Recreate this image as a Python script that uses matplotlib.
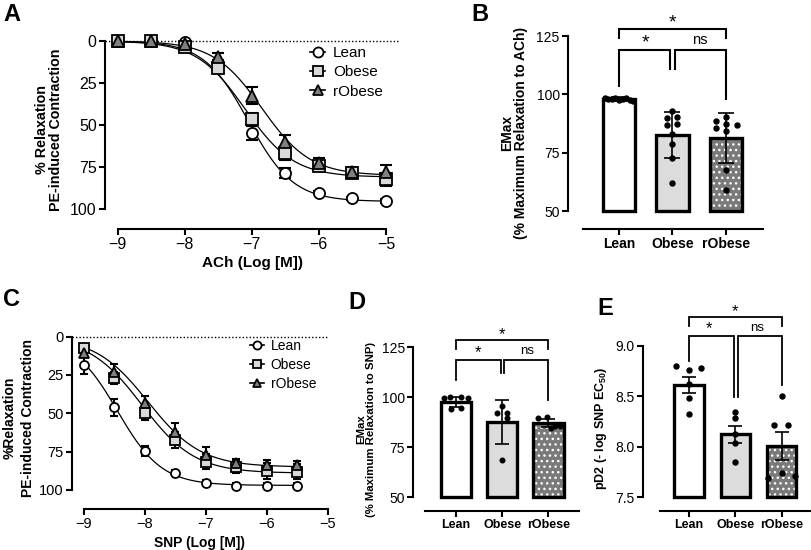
import numpy as np
import matplotlib
matplotlib.use("Agg")
import matplotlib.pyplot as plt
from matplotlib.lines import Line2D

plt.rcParams['font.family'] = ['Liberation Sans', 'DejaVu Sans']
plt.rcParams['hatch.linewidth'] = 1.0
plt.rcParams['mathtext.fontset'] = 'custom'
plt.rcParams['mathtext.rm'] = 'Liberation Sans:bold'
plt.rcParams['mathtext.default'] = 'rm'

# === Data ===
groups = ["Lean", "Obese", "rObese"]

# Panel A: ACh concentration-response
ach_x = [-9, -8.5, -8, -7.5, -7, -6.5, -6, -5.5, -5]
ach_lean = [0, 0, 0.8, 14.3, 54.8, 78.4, 90.3, 93.7, 95.2]
ach_lean_err = [0.5, 0.5, 0.5, 2, 4, 3, 1, 1, 1]
ach_obese = [0, 0, 3.4, 16.3, 46.6, 66.9, 74.2, 78.4, 82.3]
ach_obese_err = [0.5, 0.5, 1, 2, 4, 4, 3, 3, 4]
ach_robese = [0, 0, 2, 9.3, 32.5, 60, 72.8, 77.8, 78]
ach_robese_err = [0.5, 0.5, 1, 2, 5, 4, 3, 3, 4]
# fitted sigmoid parameters (top, logEC50, hill)
ach_fit = {"Lean": (95.5, -7.05, 1.3), "Obese": (81, -7.1, 1.2), "rObese": (80, -6.85, 1.2)}

# Panel B: EMax ACh
b_mean = [98, 82.6, 81.2]
b_sd = [1, 10, 10.7]
b_dots = [[98.5, 98.2, 97.8, 98.4, 97.6, 98.0, 98.3, 97.5, 97.2],
          [92.7, 89.7, 90.2, 86.9, 87.3, 82.9, 78.7, 72.9, 61.9],
          [90.4, 88.6, 85.7, 87.1, 84.3, 86.9, 67.6, 59.0]]
b_dx = [[-0.26, -0.2, -0.13, -0.07, 0, 0.07, 0.13, 0.2, 0.26],
        [0, -0.11, 0.09, -0.11, 0.09, 0, 0, 0, 0],
        [0, -0.19, -0.19, 0, 0, 0.2, 0, 0]]

# Panel C: SNP concentration-response
snp_x = [-9, -8.5, -8, -7.5, -7, -6.5, -6, -5.5]
snp_lean = [18.5, 46, 74.6, 88.7, 95.2, 97.2, 97.2, 97.2]
snp_lean_err = [6, 5.5, 3, 1.5, 1.5, 1.5, 1.5, 1.5]
snp_obese = [7.6, 27.2, 49.6, 67.4, 81.5, 85.2, 87.6, 88]
snp_obese_err = [2, 4, 5, 5, 5, 4, 5, 5]
snp_robese = [10.5, 22.8, 43.5, 62, 77.2, 82.6, 83.7, 84]
snp_robese_err = [2, 5, 5, 6, 5, 3, 3, 3]
snp_fit = {"Lean": (97, -8.45, 1.2), "Obese": (89, -8.05, 1.0), "rObese": (85, -7.95, 1.0)}

# Panel D: EMax SNP
d_mean = [97.5, 87.5, 87.2]
d_sd = [2.5, 11, 2]
d_dots = [[99.5, 100.3, 100, 99.5, 94, 94.5],
          [95.6, 92, 92, 89.5, 68.6],
          [89.8, 90.3, 85.5, 85.8, 84.5]]
d_dx = [[-0.27, -0.12, 0.1, 0.27, -0.1, 0.1],
        [0, -0.12, 0.1, 0.1, 0],
        [-0.22, -0.02, 0.15, 0.26, 0.05]]

# Panel E: pD2 SNP
e_mean = [8.613, 8.124, 8.009]
e_sem = [0.08, 0.085, 0.14]
e_dots = [[8.80, 8.76, 8.78, 8.62, 8.48, 8.32],
          [8.34, 8.28, 8.13, 8.04, 7.85],
          [8.50, 8.21, 8.21, 7.74, 7.69, 7.71]]
e_dx = [[-0.27, 0, 0.27, 0, 0, 0],
        [0, 0, 0, 0, 0],
        [0, -0.16, 0.13, 0, -0.3, 0.3]]

W, H = 812, 550
fig = plt.figure(figsize=(W / 100, H / 100), dpi=100)


def px_axes(x0, y0, x1, y1):
    return fig.add_axes([x0 / W, 1 - y1 / H, (x1 - x0) / W, (y1 - y0) / H])


def hill(x, top, logec, n):
    return top / (1 + 10 ** ((logec - x) * n))


def style_axes(ax, tick_fs):
    for s in ["top", "right"]:
        ax.spines[s].set_visible(False)
    for s in ["left", "bottom"]:
        ax.spines[s].set_linewidth(1.5)
    ax.tick_params(width=1.5, length=4, labelsize=tick_fs, pad=2)
    ax.patch.set_alpha(0)


def curve_panel(ax, xs, series, fits, ms, cap, tick_fs, leg_fs, leg_pos):
    styles = {"Lean": ("o", "white"), "Obese": ("s", "#d9d9d9"), "rObese": ("^", "#808080")}
    xf = np.linspace(xs[0], xs[-1], 200)
    handles = []
    for name, (yv, ye) in series.items():
        mk, fc = styles[name]
        top, logec, n = fits[name]
        ax.plot(xf, hill(xf, top, logec, n), color="black", lw=0.9, zorder=2)
        ax.errorbar(xs, yv, yerr=ye, fmt="none", ecolor="black", elinewidth=1.5,
                    capsize=cap, capthick=1.5, zorder=3, clip_on=False)
        ax.plot(xs, yv, ls="none", marker=mk, ms=ms, mfc=fc, mec="black", mew=1.3,
                zorder=4, clip_on=False)
        handles.append(Line2D([], [], color="black", lw=1.2, marker=mk, ms=ms * 0.9,
                              mfc=fc, mec="black", mew=1.3))
    ax.axhline(0, color="black", ls=(0, (1, 1.5)), lw=1.0, zorder=1)
    ax.legend(handles, list(series.keys()), loc="upper left", bbox_to_anchor=leg_pos,
              bbox_transform=fig.transFigure, frameon=False, fontsize=leg_fs,
              handlelength=1.0, handletextpad=0.5, labelspacing=0.35,
              borderpad=0, borderaxespad=0)
    style_axes(ax, tick_fs)
    ax.spines["left"].set_bounds(0, 100)
    ax.set_yticks([0, 25, 50, 75, 100])


def bar_panel(ax, means, errs, dots, dxs, width, cap, dot_ms, tick_fs, xt_fs):
    xs = np.arange(len(groups))
    fills = ["white", "#dcdcdc", "#7a7a7a"]
    for i in range(len(groups)):
        if i == 2:
            ax.bar(xs[i], means[i] - bottom_val, width, bottom=bottom_val, color=fills[i],
                   edgecolor="white", lw=0, hatch="...", zorder=1)
            ax.bar(xs[i], means[i] - bottom_val, width, bottom=bottom_val, facecolor="none",
                   edgecolor="black", lw=2.4, zorder=2)
        else:
            ax.bar(xs[i], means[i] - bottom_val, width, bottom=bottom_val, color=fills[i],
                   edgecolor="black", lw=2.4, zorder=2)
        ax.errorbar(xs[i], means[i], yerr=errs[i], fmt="none", ecolor="black",
                    elinewidth=1.2, capsize=cap, capthick=1.2, zorder=3)
        ax.plot(xs[i] + np.array(dxs[i]), dots[i], ls="none", marker="o", ms=dot_ms,
                color="black", zorder=4, clip_on=False)
    style_axes(ax, tick_fs)
    ax.set_xticks(xs)
    ax.set_xticklabels(groups, fontweight="bold", fontsize=xt_fs)


def bracket(ax, x0, x1, y, y0, y1, lw=1.5):
    ax.plot([x0, x0, x1, x1], [y0, y, y, y1], color="black", lw=lw, clip_on=False,
            solid_joinstyle="miter")


# === Panel A ===
axA = px_axes(105, 31, 400, 229)
axA.set_xlim(-9.19, -4.79)
axA.set_ylim(111.9, -5.95)
curve_panel(axA, ach_x, {"Lean": (ach_lean, ach_lean_err), "Obese": (ach_obese, ach_obese_err),
                         "rObese": (ach_robese, ach_robese_err)},
            ach_fit, 8, 4, 11.5, 11, (310 / W, 1 - 46 / H))
axA.spines["bottom"].set_bounds(-9, -5)
axA.set_xticks([-9, -8, -7, -6, -5])
axA.set_xlabel("ACh (Log [M])", fontweight="bold", fontsize=11, labelpad=3)
axA.set_ylabel("% Relaxation\nPE-induced Contraction", fontweight="bold", fontsize=10.3,
               linespacing=1.05, labelpad=5)

# === Panel C ===
axC = px_axes(72, 327, 328, 509)
axC.set_xlim(-9.196, -5.016)
axC.set_ylim(112.4, -6.3)
curve_panel(axC, snp_x, {"Lean": (snp_lean, snp_lean_err), "Obese": (snp_obese, snp_obese_err),
                         "rObese": (snp_robese, snp_robese_err)},
            snp_fit, 6.5, 3.2, 10.5, 10, (250 / W, 1 - 339 / H))
axC.spines["bottom"].set_bounds(-9, -5)
axC.set_xticks([-9, -8, -7, -6, -5])
axC.set_xlabel("SNP (Log [M])", fontweight="bold", fontsize=10, labelpad=3)
axC.set_ylabel("%Relaxation\nPE-induced Contraction", fontweight="bold", fontsize=10,
               linespacing=1.4, labelpad=3)

# === Panel B ===
axB = px_axes(568, 36, 766, 229)
axB.set_xlim(-0.953, 2.748)
axB.set_ylim(42.29, 125)
bottom_val = 50
bar_panel(axB, b_mean, b_sd, b_dots, b_dx, 0.6, 6, 3.6, 10, 10)
axB.spines["bottom"].set_bounds(-0.67, 2.69)
axB.spines["left"].set_bounds(50, 125)
axB.set_yticks([50, 75, 100, 125])
axB.set_ylabel("EMax\n(% Maximum Relaxation to ACh)", fontweight="bold", fontsize=10,
               linespacing=1.0, labelpad=6)
bracket(axB, 0, 2, 127.9, 124.0, 124.0)
bracket(axB, 0, 0.95, 119, 103.6, 111)
bracket(axB, 1.04, 2, 119, 111, 97.9)
axB.text(1, 130.5, "*", ha="center", va="center", fontsize=14)
axB.text(0.49, 122.0, "*", ha="center", va="center", fontsize=14)
axB.text(1.51, 123.5, "ns", ha="center", va="center", fontsize=10.5)

# === Panel D ===
axD = px_axes(413.3, 347.3, 582, 511)
axD.set_xlim(-0.924, 2.727)
axD.set_ylim(43.15, 125)
bottom_val = 50
bar_panel(axD, d_mean, d_sd, d_dots, d_dx, 0.66, 5, 3.3, 10, 9)
axD.spines["bottom"].set_bounds(-0.67, 2.67)
axD.spines["left"].set_bounds(50, 125)
axD.set_yticks([50, 75, 100, 125])
axD.set_ylabel("EMax\n(% Maximum Relaxation to SNP)", fontweight="bold", fontsize=8.2,
               linespacing=1.0, labelpad=4)
bracket(axD, 0, 2, 128.6, 124.2, 124.2, lw=1.3)
bracket(axD, 0, 0.97, 118.8, 108.6, 112, lw=1.3)
bracket(axD, 1.04, 2, 118.8, 112, 98.6, lw=1.3)
axD.text(1, 131.5, "*", ha="center", va="center", fontsize=12)
axD.text(0.48, 122.5, "*", ha="center", va="center", fontsize=12)
axD.text(1.53, 123, "ns", ha="center", va="center", fontsize=9.5)

# === Panel E ===
axE = px_axes(643.3, 345.5, 812, 511)
axE.set_xlim(-0.987, 2.657)
axE.set_ylim(7.365, 9.0)
bottom_val = 7.5
bar_panel(axE, e_mean, e_sem, e_dots, e_dx, 0.63, 5, 3.6, 10, 9)
axE.spines["bottom"].set_bounds(-0.63, 2.657)
axE.spines["left"].set_bounds(7.5, 9.0)
axE.set_yticks([7.5, 8.0, 8.5, 9.0])
axE.set_yticklabels(["7.5", "8.0", "8.5", "9.0"])
axE.set_ylabel("pD2 (- log SNP EC$_{50}$)", fontweight="bold", fontsize=9, labelpad=5)
bracket(axE, 0, 2, 9.28, 9.197, 9.197, lw=1.3)
bracket(axE, 0, 0.97, 9.098, 8.85, 8.49, lw=1.3)
bracket(axE, 1.065, 2, 9.098, 8.49, 8.61, lw=1.3)
axE.text(1, 9.33, "*", ha="center", va="center", fontsize=12)
axE.text(0.44, 9.17, "*", ha="center", va="center", fontsize=12)
axE.text(1.475, 9.17, "ns", ha="center", va="center", fontsize=9.5)

# === Panel letters ===
for lab, x, y in [("A", 3, 3), ("B", 471, 3), ("C", 3, 288), ("D", 348, 291), ("E", 597, 297)]:
    fig.text(x / W, 1 - y / H, lab, fontsize=17, fontweight="bold", ha="left", va="top")

fig.savefig("out.png", dpi=100)
